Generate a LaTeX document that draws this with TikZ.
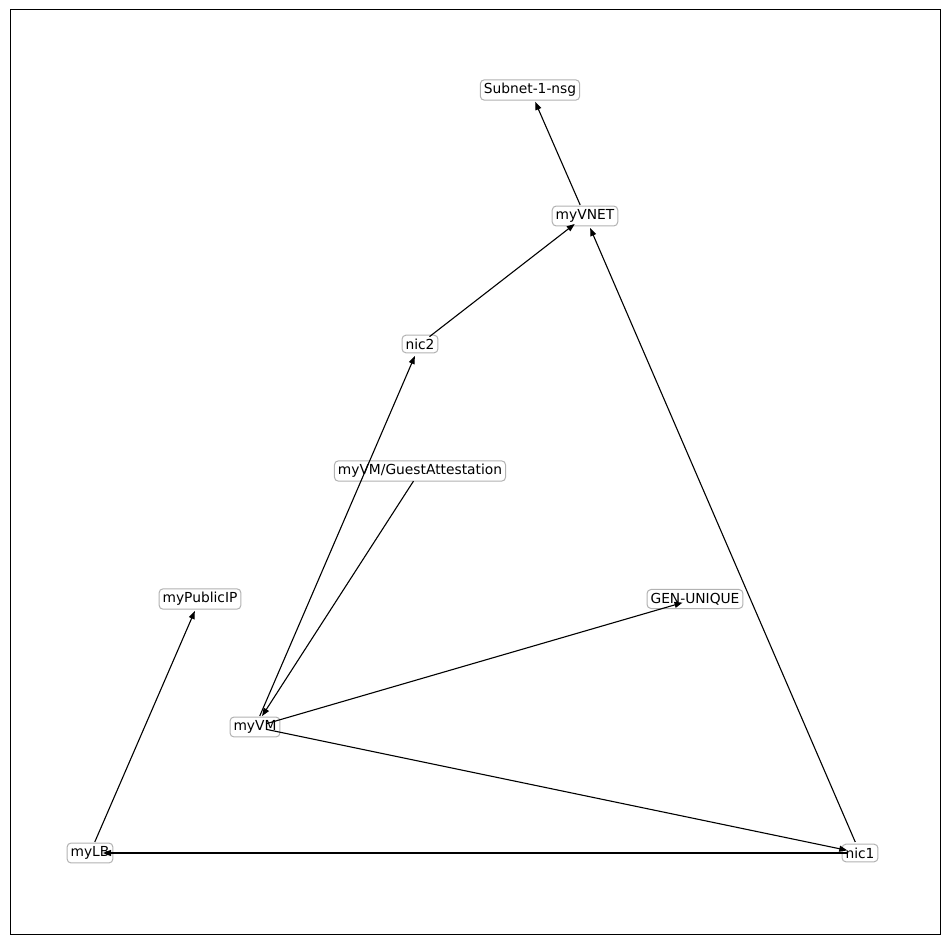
\documentclass[tikz,border=0pt]{standalone}
\usepackage{fontspec}
\setmainfont{DejaVu Sans}
\usetikzlibrary{arrows.meta}
\begin{document}
\begin{tikzpicture}[x=1pt,y=-1pt,
  lbl/.style={draw=black!30,line width=1pt,fill=white,rounded corners=4pt,inner sep=3.5pt,font=\fontsize{13.8}{16}\selectfont},
  edge/.style={-{Triangle[length=8pt,width=6pt]},line width=1.1pt,shorten >=13pt,shorten <=12pt}]
\useasboundingbox (0,0) rectangle (950,944);
\draw[line width=1pt] (10,10) rectangle (940,934);
\node[lbl] (sub) at (530,90) {Subnet-1-nsg};
\node[lbl] (vnet) at (585,216) {myVNET};
\node[lbl] (nic2) at (420,344) {nic2};
\node[lbl] (ga) at (420,471) {myVM/GuestAttestation};
\node[lbl] (pip) at (200,599) {myPublicIP};
\node[lbl] (gen) at (695,599) {GEN-UNIQUE};
\node[lbl] (vm) at (255,727) {myVM};
\node[lbl] (lb) at (90,853) {myLB};
\node[lbl] (nic1) at (860,853) {nic1};
\draw[edge] (vnet.center) -- (sub.center);
\draw[edge] (nic2.center) -- (vnet.center);
\draw[edge] (nic1.center) -- (vnet.center);
\draw[edge] (vm.center) -- (nic2.center);
\draw[edge] (ga.center) -- (vm.center);
\draw[edge] (vm.center) -- (gen.center);
\draw[edge] (vm.center) -- (nic1.center);
\draw[edge] (lb.center) -- (pip.center);
\draw[edge] (nic1.center) -- (lb.center);
\end{tikzpicture}
\end{document}
